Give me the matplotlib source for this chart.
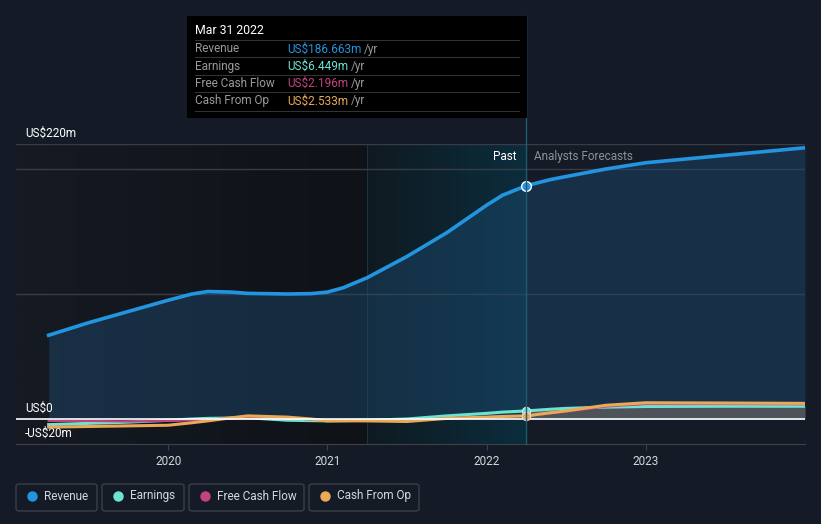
import numpy as np
import matplotlib.pyplot as plt
from matplotlib.patches import Rectangle, FancyBboxPatch
from matplotlib.colors import LinearSegmentedColormap
from matplotlib.transforms import blended_transform_factory

plt.rcParams['font.family'] = ['Roboto', 'DejaVu Sans']

# data (US$ m, fiscal time in years)
t = [2019.25, 2019.5, 2019.75, 2020.0, 2020.15, 2020.25, 2020.4, 2020.5, 2020.75, 2020.9, 2021.0,
     2021.1, 2021.25, 2021.5, 2021.75, 2022.0, 2022.1, 2022.25, 2022.4, 2022.5, 2022.75,
     2023.0, 2023.5, 2024.0]
revenue = [67, 77, 86, 95, 100, 102, 101.5, 100.5, 100, 100.3, 101.5,
           105, 113, 130, 149, 171, 179, 186.663, 191.5, 194, 200,
           205, 211, 217]
earnings = [-4.5, -3.5, -2.5, -1, 0, 0.5, 0.8, 1, -1, -1.3, -1.5,
            -1.3, -1, 0, 2.5, 4.5, 5.5, 6.449, 7.8, 8.5, 9.5,
            10, 10.2, 10.2]
fcf = [-1.5, -1.5, -2, -1.5, -1, -0.5, 0.8, 1.5, 1, -0.5, -1.5,
       -1.5, -1.5, -1.5, 0.5, 1.5, 1.9, 2.196, 4.5, 6, 10,
       12, 12, 11.8]
cfo = [-6.5, -6, -5.5, -5, -3, -1.5, 1, 2.5, 1.5, 0, -1.5,
       -1.5, -1.5, -2, 0.5, 1.5, 2, 2.533, 5, 6.5, 11,
       13, 12.8, 12.5]
years = [2020, 2021, 2022, 2023]
now = 2022.25
hl_start = 2021.25

c_rev, c_earn, c_fcf, c_cfo = '#2394df', '#6de4d2', '#c2437f', '#e9a957'
bg = '#151b26'

W, H = 821, 524
fig = plt.figure(figsize=(W / 100, H / 100), dpi=100, facecolor=bg)
x0, x1 = 2019.045, 2024.0
ax = fig.add_axes([16 / W, 1 - 444 / H, (805 - 16) / W, (444 - 144) / H])
ax.set_facecolor(bg)
ax.set_xlim(x0, x1)
ax.set_ylim(-20, 220)

# background regions
grad = np.linspace(0, 1, 256).reshape(1, -1)
ax.imshow(grad, extent=[x0, hl_start, -20, 220], aspect='auto', zorder=0,
          cmap=LinearSegmentedColormap.from_list('l', ['#151a23', '#0f1217']))
ax.imshow(grad, extent=[hl_start, now, -20, 220], aspect='auto', zorder=0,
          cmap=LinearSegmentedColormap.from_list('h', ['#0f1a21', '#0b2d3d']))
ax.axvline(hl_start, color='#1b3440', lw=0.8, zorder=1)

# gridlines
for v in [100, 200, 220]:
    ax.axhline(v, color='#383d45', lw=1, zorder=1)

# revenue area
ax.fill_between(t, 0, revenue, color='#1d4a70', alpha=0.45, lw=0, zorder=2)
fut = [i for i, x in enumerate(t) if x >= now]
ax.fill_between([t[i] for i in fut], 0, [earnings[i] for i in fut],
                color='#55585d', alpha=0.9, lw=0, zorder=3)

ax.plot(t, earnings, color=c_earn, lw=2.2, zorder=4)
ax.plot(t, fcf, color=c_fcf, lw=1.6, zorder=4)
ax.plot(t, cfo, color=c_cfo, lw=2.2, zorder=5)
ax.plot(t, revenue, color=c_rev, lw=2.6, zorder=6)
ax.axhline(0, color='white', lw=1.2, zorder=5)

i = t.index(now)
for s, c in [(earnings, c_earn), (cfo, c_cfo)]:
    ax.plot(now, s[i], 'o', ms=6, color=c, mec='#dddddd', mew=0.8, zorder=7)
ax.plot(now, revenue[i], 'o', ms=7, color=c_rev, mec='white', mew=1, zorder=7)

# y labels above lines
tr = blended_transform_factory(fig.transFigure, ax.transData)
for v, lab in [(220, 'US$220m'), (0, 'US$0'), (-20, '-US$20m')]:
    ax.text(25 / W, v + 3.5, lab, transform=tr, color='white', fontsize=8.5, va='bottom')

ax.set_yticks([])
ax.set_xticks(years)
ax.set_xticklabels([str(y) for y in years])
ax.tick_params(axis='x', colors='#3c4049', labelcolor='#d5d7da', labelsize=8.5, length=4, pad=4)
for s in ['top', 'right', 'left']:
    ax.spines[s].set_visible(False)
ax.spines['bottom'].set_color('#3c4049')

ax.text(now - 0.06, 210, 'Past', color='white', fontsize=8.5, ha='right', va='center', zorder=8)
ax.text(now + 0.05, 210, 'Analysts Forecasts', color='#8c9097', fontsize=8.5, ha='left', va='center', zorder=8)

# vertical now line up to tooltip
fig.add_artist(plt.Line2D([526 / W, 526 / W], [1 - 444 / H, 1 - 16 / H], color='#1f5a70', lw=1))

# tooltip
fig.add_artist(Rectangle((187 / W, 1 - 118 / H), 340 / W, 102 / H, transform=fig.transFigure,
                         facecolor='black', edgecolor='none', zorder=10))
fig.text(195 / W, 1 - 31 / H, 'Mar 31 2022', color='white', fontsize=8.8, va='center', zorder=11)
rows = [('Revenue', 'US$186.663m', c_rev), ('Earnings', 'US$6.449m', c_earn),
        ('Free Cash Flow', 'US$2.196m', c_fcf), ('Cash From Op', 'US$2.533m', c_cfo)]
for k, (name, val, c) in enumerate(rows):
    y = 49 + k * 17.3
    fig.add_artist(plt.Line2D([195 / W, 519 / W], [1 - (y - 9) / H] * 2, color='#333', lw=0.8, zorder=11))
    fig.text(195 / W, 1 - y / H, name, color='#9a9a9a', fontsize=8.5, va='center', zorder=11)
    tx = fig.text(287 / W, 1 - y / H, val, color=c, fontsize=8.5, va='center', zorder=11)
    fig.canvas.draw()
    bb = tx.get_window_extent()
    fig.text(bb.x1 / W + 3 / W, 1 - y / H, '/yr', color='#9a9a9a', fontsize=8.5, va='center', zorder=11)
fig.add_artist(plt.Line2D([195 / W, 519 / W], [1 - 111 / H] * 2, color='#333', lw=0.8, zorder=11))

# legend boxes
items = [('Revenue', c_rev, 16, 97), ('Earnings', c_earn, 102, 184),
         ('Free Cash Flow', c_fcf, 189, 304), ('Cash From Op', c_cfo, 309, 419)]
for name, c, xa, xb in items:
    fig.add_artist(FancyBboxPatch((xa / W, 1 - 511 / H), (xb - xa) / W, 27 / H,
                                  boxstyle='round,pad=0,rounding_size=0.004', transform=fig.transFigure,
                                  facecolor='none', edgecolor='#3a3f48', lw=1))
    fig.add_artist(plt.Line2D([(xa + 16) / W], [1 - 496 / H], marker='o', ms=6.5, color=c, mec=c))
    fig.text((xa + 28) / W, 1 - 496 / H, name, color='#d5d7da', fontsize=8.5, va='center')

fig.savefig('out.png', dpi=100, facecolor=bg)
